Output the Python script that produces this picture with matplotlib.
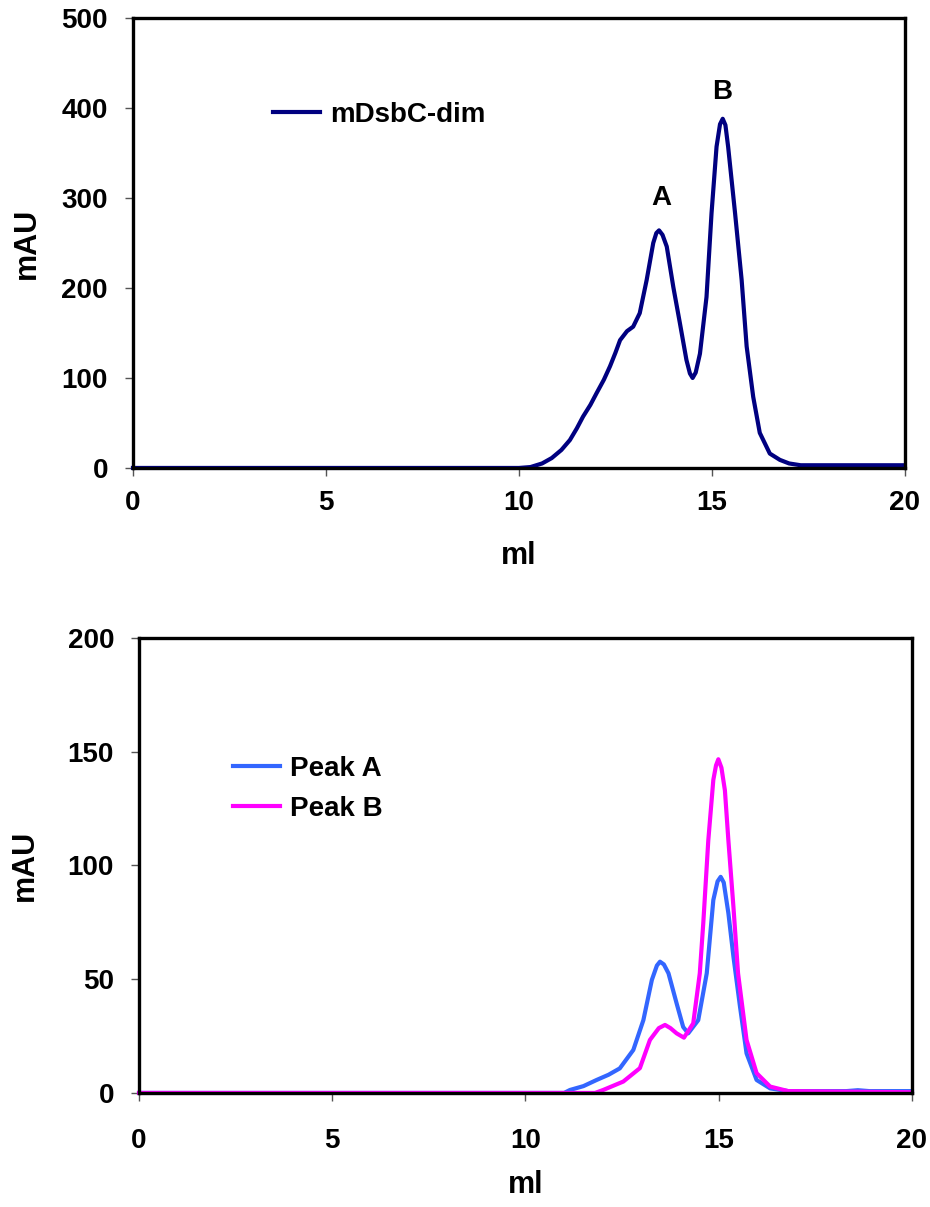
import matplotlib
matplotlib.use("Agg")
import matplotlib.pyplot as plt

plt.rcParams['font.family'] = ['Liberation Sans', 'DejaVu Sans']
plt.rcParams['font.weight'] = 'bold'
plt.rcParams['axes.labelweight'] = 'bold'

# top panel: mDsbC-dim elution profile (ml, mAU)
dim_ml = [0, 10.0, 10.3, 10.6, 10.85, 11.1, 11.32, 11.5, 11.66, 11.85, 12.01, 12.2,
          12.36, 12.5, 12.62, 12.8, 12.96, 13.13, 13.31, 13.48, 13.56, 13.63, 13.72,
          13.83, 14.0, 14.17, 14.34, 14.43, 14.5, 14.58, 14.69, 14.86, 14.99, 15.12,
          15.21, 15.28, 15.35, 15.42, 15.6, 15.77, 15.9, 16.07, 16.24, 16.5, 16.76,
          17.0, 17.3, 20]
dim_mau = [0, 0, 1, 5, 11, 20, 31, 44, 57, 70, 83, 98,
           113, 128, 142, 152, 157, 172, 209, 250, 261, 264, 259,
           246, 201, 161, 120, 105, 100, 106, 127, 190, 283, 357,
           382, 388, 381, 357, 283, 209, 135, 79, 39, 16, 9,
           5, 3, 3]

# bottom panel: re-run of peak A and peak B
pa_ml = [0, 11.0, 11.15, 11.5, 11.84, 12.15, 12.44, 12.79, 13.05, 13.27, 13.4, 13.48,
         13.58, 13.7, 13.91, 14.08, 14.21, 14.47, 14.69, 14.86, 14.97, 15.05, 15.13,
         15.25, 15.38, 15.55, 15.72, 15.98, 16.33, 16.8, 18.3, 18.6, 18.9, 20]
pa_mau = [0, 0, 1.3, 3, 5.7, 8, 10.8, 18.9, 32, 49.7, 56, 57.7,
          56.5, 52.6, 39.4, 29, 26.2, 32, 52.6, 84.8, 93, 95, 92.5,
          79, 60, 38, 17.4, 5.7, 2, 0.8, 0.8, 1.2, 0.8, 0.8]

pb_ml = [0, 11.8, 12.01, 12.53, 12.96, 13.22, 13.45, 13.61, 13.75, 13.91, 14.1, 14.34,
         14.51, 14.6, 14.73, 14.86, 14.93, 14.99, 15.07, 15.16, 15.25, 15.38, 15.5,
         15.72, 15.98, 16.33, 16.8, 20]
pb_mau = [0, 0, 1.3, 5, 10.9, 23.3, 28.5, 29.9, 28.5, 26.2, 24.3, 30.6,
          52.6, 74.6, 111, 137.6, 144, 146.7, 143, 133, 111, 81.9, 52.6,
          23.3, 8.7, 2.8, 0.8, 0.3]

fig = plt.figure(figsize=(9.3, 12.07), dpi=100)
ax1 = fig.add_axes([0.143, 0.6123, 0.830, 0.3728])
ax2 = fig.add_axes([0.1495, 0.0945, 0.8311, 0.3769])


def style(ax, ymax, ystep, xpad):
    ax.set_xlim(0, 20)
    ax.set_ylim(0, ymax)
    ax.set_xticks(range(0, 21, 5))
    ax.set_yticks(range(0, ymax + 1, ystep))
    for s in ax.spines.values():
        s.set_linewidth(2.4)
        s.set_color('black')
    ax.tick_params(axis='both', direction='out', length=6, width=1, color='#555555',
                   labelsize=20)
    ax.tick_params(axis='y', pad=12)
    ax.tick_params(axis='x', pad=xpad)
    ax.set_xlabel('ml', fontsize=22, fontweight='bold')
    ax.set_ylabel('mAU', fontsize=22, fontweight='bold')


ax1.plot(dim_ml, dim_mau, color='#000080', lw=3, label='mDsbC-dim', clip_on=False)
style(ax1, 500, 100, 10)
ax1.text(13.68, 300, 'A', fontsize=20, fontweight='bold', ha='center', va='center')
ax1.text(15.26, 418, 'B', fontsize=20, fontweight='bold', ha='center', va='center')
ax1.legend(loc='center left', bbox_to_anchor=(0.181, 0.784), frameon=False,
           fontsize=20, handlelength=1.7, handletextpad=0.35, borderpad=0,
           borderaxespad=0)
ax1.xaxis.labelpad = 18
ax1.yaxis.labelpad = 14

ax2.plot(pa_ml, pa_mau, color='#3366FF', lw=3, label='Peak A', clip_on=False)
ax2.plot(pb_ml, pb_mau, color='#FF00FF', lw=3, label='Peak B', clip_on=False)
style(ax2, 200, 50, 19)
ax2.legend(loc='center left', bbox_to_anchor=(0.1216, 0.669), frameon=False,
           fontsize=20, handlelength=1.7, handletextpad=0.35, borderpad=0,
           borderaxespad=0, labelspacing=0.5)
ax2.xaxis.labelpad = 12
ax2.yaxis.labelpad = 20

fig.savefig('out.png', dpi=100)
